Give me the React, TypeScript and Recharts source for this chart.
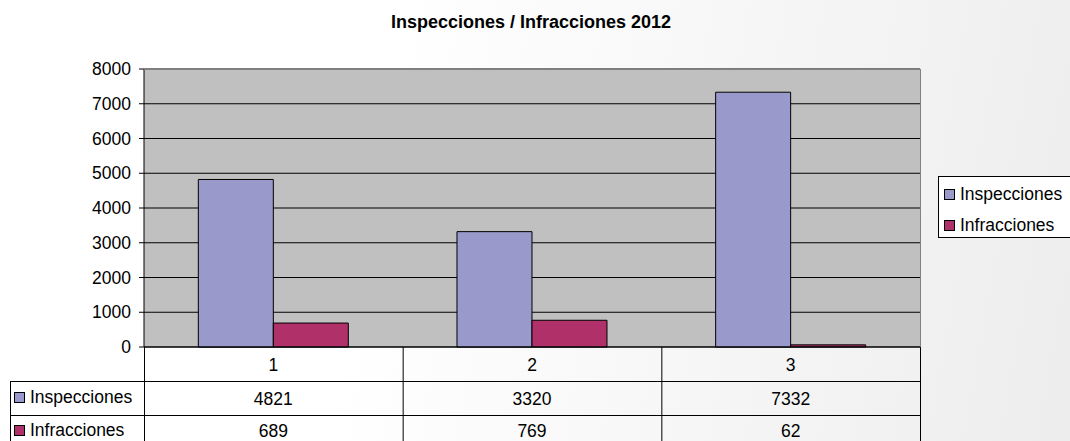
import { BarChart, Bar, XAxis, YAxis, CartesianGrid } from 'recharts'

const categories = ['1', '2', '3']
const inspecciones = [4821, 3320, 7332]
const infracciones = [689, 769, 62]
const yTicks = [0, 1000, 2000, 3000, 4000, 5000, 6000, 7000, 8000]
const seriesNames = ['Inspecciones', 'Infracciones']
const seriesColors = ['#9999CC', '#B0306A']

const W = 1070
const H = 441
const PLOT_L = 144
const PLOT_T = 69
const PLOT_R = 920
const PLOT_B = 347
const ROW_H = 34
const TABLE_L = 10
const FONT = '"Liberation Sans", Arial, sans-serif'
const FS = 17.5

const data = categories.map((c, i) => ({
  cat: c,
  inspecciones: inspecciones[i],
  infracciones: infracciones[i],
}))

function TableTick({ x, index }: any) {
  const rows = [categories[index], inspecciones[index], infracciones[index]]
  return (
    <g>
      {rows.map((v, r) => (
        <text
          key={r}
          x={x}
          y={PLOT_B + ROW_H * r + ROW_H / 2 + (r === 2 ? -1 : 1)}
          textAnchor="middle"
          dominantBaseline="central"
          fontSize={FS}
          fontFamily={FONT}
          fill="#000"
        >
          {v}
        </text>
      ))}
    </g>
  )
}

function Swatch({ color }: { color: string }) {
  return (
    <span
      style={{
        display: 'inline-block',
        width: 9,
        height: 9,
        background: color,
        border: '1px solid #000',
        marginRight: 5,
        verticalAlign: 'middle',
        position: 'relative',
        top: -1,
      }}
    />
  )
}

export default function App() {
  const band = (PLOT_R - PLOT_L) / categories.length
  return (
    <div
      style={{
        position: 'relative',
        width: W,
        height: H,
        overflow: 'hidden',
        fontFamily: FONT,
        background: 'linear-gradient(100deg, #ffffff 35%, #ededed 100%)',
      }}
    >
      <style>{`body{margin:0}`}</style>
      <div
        style={{
          position: 'absolute',
          top: 12,
          left: 0,
          width: 1062,
          textAlign: 'center',
          fontWeight: 'bold',
          fontSize: 18,
        }}
      >
        Inspecciones / Infracciones 2012
      </div>
      <BarChart
        width={W}
        height={H}
        data={data}
        margin={{ top: PLOT_T, right: W - PLOT_R, bottom: 0, left: 0 }}
        barCategoryGap="21%"
        barGap={0}
      >
        <CartesianGrid horizontal vertical={false} stroke="#000" fill="#C0C0C0" fillOpacity={1} />
        <XAxis
          dataKey="cat"
          height={H - PLOT_B}
          axisLine={{ stroke: '#000' }}
          tickLine={false}
          tick={<TableTick />}
          interval={0}
        />
        <YAxis
          width={PLOT_L}
          domain={[0, 8000]}
          ticks={yTicks}
          interval={0}
          axisLine={{ stroke: '#000' }}
          tickLine={{ stroke: '#000' }}
          tickSize={5}
          tickMargin={8}
          tick={{ fontSize: FS, fill: '#000', fontFamily: FONT }}
        />
        <Bar dataKey="inspecciones" name="Inspecciones" fill={seriesColors[0]} stroke="#000" strokeWidth={1} isAnimationActive={false} />
        <Bar dataKey="infracciones" name="Infracciones" fill={seriesColors[1]} stroke="#000" strokeWidth={1} isAnimationActive={false} />
      </BarChart>
      <svg width={W} height={H} style={{ position: 'absolute', left: 0, top: 0, pointerEvents: 'none' }}>
        <line x1={PLOT_L} y1={PLOT_T + 0.5} x2={PLOT_R} y2={PLOT_T + 0.5} stroke="#808080" />
        <line x1={PLOT_R + 0.5} y1={PLOT_T} x2={PLOT_R + 0.5} y2={PLOT_B} stroke="#808080" />
        {[0, 1, 2, 3].map((i) => (
          <line key={i} x1={PLOT_L + band * i + 0.5} y1={PLOT_B} x2={PLOT_L + band * i + 0.5} y2={H} stroke="#000" />
        ))}
        <line x1={TABLE_L + 0.5} y1={PLOT_B + ROW_H} x2={TABLE_L + 0.5} y2={H} stroke="#000" />
        <line x1={TABLE_L} y1={PLOT_B + ROW_H + 0.5} x2={PLOT_R + 1} y2={PLOT_B + ROW_H + 0.5} stroke="#000" />
        <line x1={TABLE_L} y1={PLOT_B + ROW_H * 2 + 0.5} x2={PLOT_R + 1} y2={PLOT_B + ROW_H * 2 + 0.5} stroke="#000" />
      </svg>
      {seriesNames.map((n, i) => (
        <div
          key={n}
          style={{ position: 'absolute', left: TABLE_L + 4, top: PLOT_B + ROW_H * (i + 1) + 6 + (i === 1 ? -1 : 0), fontSize: FS, whiteSpace: 'nowrap' }}
        >
          <Swatch color={seriesColors[i]} />
          {n}
        </div>
      ))}
      <div
        style={{
          position: 'absolute',
          left: 938,
          top: 176,
          width: 150,
          height: 62,
          border: '1px solid #000',
          background: '#fff',
          boxSizing: 'border-box',
          padding: '5px 0 0 5px',
          fontSize: FS,
        }}
      >
        {seriesNames.map((n, i) => (
          <div key={n} style={{ whiteSpace: 'nowrap', lineHeight: '24px', marginBottom: i === 0 ? 7 : 0 }}>
            <Swatch color={seriesColors[i]} />
            {n}
          </div>
        ))}
      </div>
    </div>
  )
}
